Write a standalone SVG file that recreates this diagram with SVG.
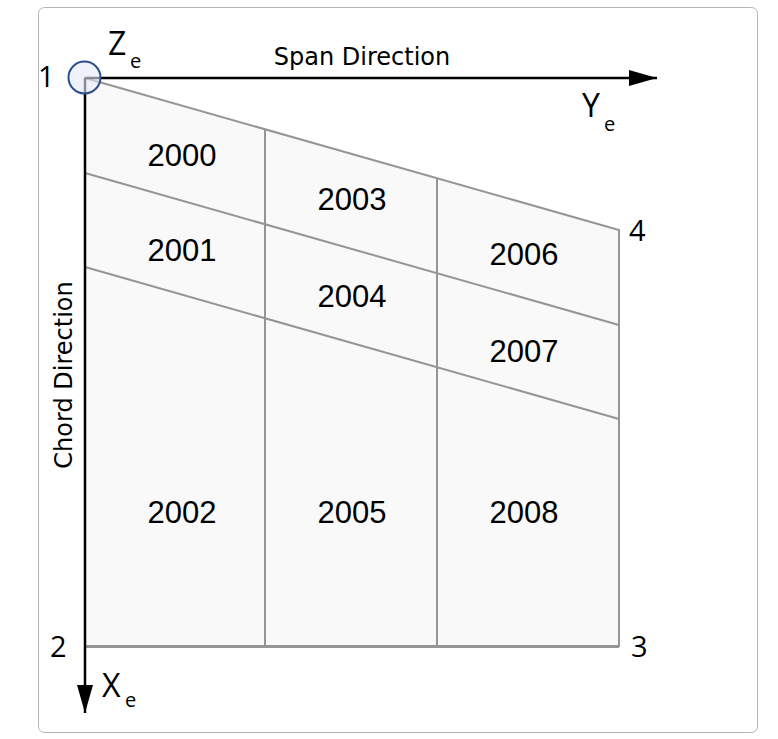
<svg xmlns="http://www.w3.org/2000/svg" width="778" height="739" viewBox="0 0 778 739">
<defs>
<style>
.frame{fill:#fff;stroke:#b4b4b4;stroke-width:1}
.panel{fill:#f9f9f9;stroke:#959595;stroke-width:2}
.grid{fill:none;stroke:#959595;stroke-width:2}
.axis{fill:none;stroke:#000;stroke-width:2.5}
.num{font-family:"Liberation Sans",Arial,sans-serif;font-size:31px;fill:#000;text-anchor:middle}
.pt{font-family:"Open Sans","Noto Sans",sans-serif;font-size:29px;fill:#000}
.ax{font-family:"Open Sans","Noto Sans",sans-serif;font-size:32px;fill:#000}
.sub{font-family:"Open Sans","Noto Sans",sans-serif;font-size:20px;fill:#000}
.dir{font-family:"DejaVu Sans",Verdana,sans-serif;font-size:24px;fill:#000}
</style>
<marker id="ah" viewBox="0 0 28 16" refX="28" refY="8" markerWidth="28" markerHeight="16" markerUnits="userSpaceOnUse" orient="auto">
<path d="M0,0 L28,8 L0,16 Z" fill="#000"/>
</marker>
</defs>
<rect class="frame" x="38.5" y="7.5" width="719" height="725" rx="6"/>
<g id="panels">
<path class="panel" d="M85,78 L619,230 L619,646 L85,646 Z"/>
</g>
<g id="connectors">
<line class="grid" x1="85" y1="173" x2="619" y2="325"/>
<line class="grid" x1="85" y1="267" x2="619" y2="419"/>
<line class="grid" x1="265" y1="129" x2="265" y2="646"/>
<line class="grid" x1="437" y1="178" x2="437" y2="646"/>
<line class="grid" x1="85" y1="646.5" x2="619" y2="646.5" style="stroke-width:3"/>
<line class="axis" x1="85" y1="78" x2="657" y2="78" marker-end="url(#ah)"/>
<line class="axis" x1="85" y1="78" x2="85" y2="713" marker-end="url(#ah)"/>
</g>
<g id="node-origin">
<circle cx="84.5" cy="77.5" r="16" fill="#e4eaf4" fill-opacity="0.6" stroke="#2d4e8a" stroke-width="2"/>
</g>
<g id="labels-panels">
<text class="num" x="182" y="166">2000</text>
<text class="num" x="352" y="210">2003</text>
<text class="num" x="524" y="265">2006</text>
<text class="num" x="182" y="261">2001</text>
<text class="num" x="352" y="307">2004</text>
<text class="num" x="524" y="362">2007</text>
<text class="num" x="182" y="523">2002</text>
<text class="num" x="352" y="523">2005</text>
<text class="num" x="524" y="523">2008</text>
</g>
<g id="labels-points">
<text class="pt" x="38" y="87">1</text>
<text class="pt" x="50" y="657">2</text>
<text class="pt" x="631" y="657">3</text>
<text class="pt" x="629" y="241">4</text>
</g>
<g id="labels-axes">
<text class="ax" x="108" y="55">Z</text><text class="sub" x="130" y="68">e</text>
<text class="ax" x="582" y="117">Y</text><text class="sub" x="604" y="131">e</text>
<text class="ax" x="102" y="697">X</text><text class="sub" x="125" y="707">e</text>
<text class="dir" x="362" y="65" text-anchor="middle">Span Direction</text>
<text class="dir" transform="translate(72,375) rotate(-90)" text-anchor="middle">Chord Direction</text>
</g>
</svg>
